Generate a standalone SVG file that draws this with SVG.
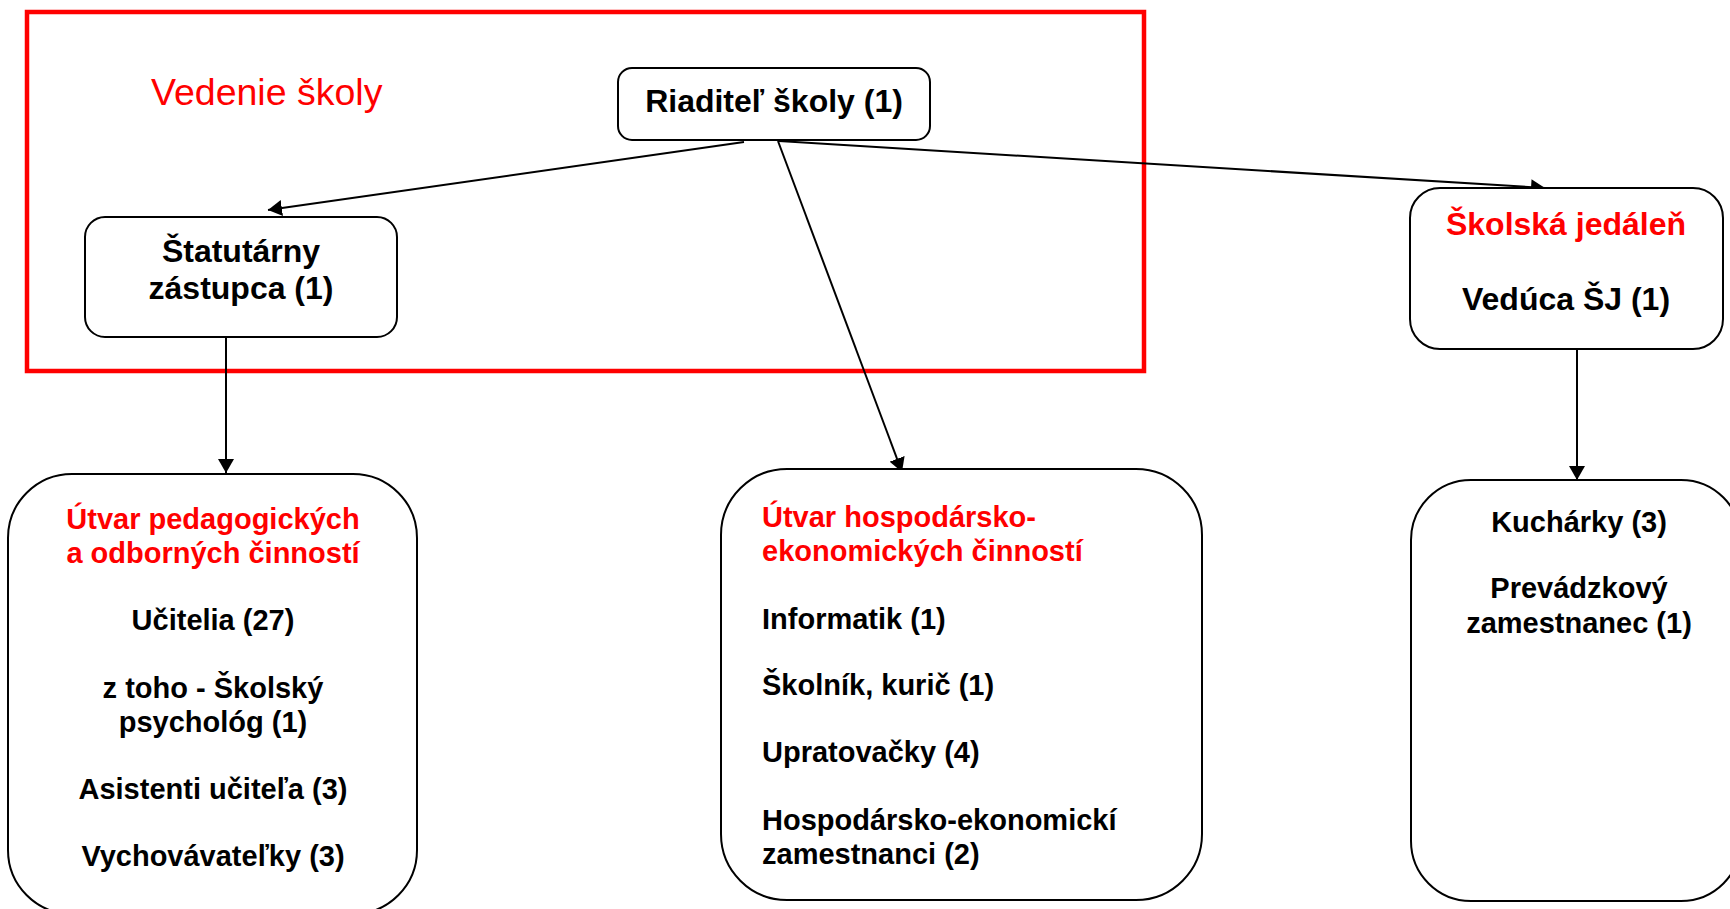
<svg xmlns="http://www.w3.org/2000/svg" width="1730" height="909" viewBox="0 0 1730 909">
<style>
.box{fill:#fff;stroke:#000;stroke-width:2}
.t{font-family:"Liberation Sans",Arial,sans-serif;font-weight:bold;fill:#000}
.red{fill:#ff0000}
.c{text-anchor:middle}
.s32{font-size:32px}
.s29{font-size:29px}
.conn{stroke:#000;stroke-width:2;fill:none;marker-end:url(#ah)}
</style>
<defs>
<marker id="ah" markerUnits="userSpaceOnUse" markerWidth="16" markerHeight="16" refX="14" refY="8" orient="auto">
<path d="M0,0 L14,8 L0,16 z" fill="#000"/>
</marker>
</defs>
<rect width="1730" height="909" fill="#fff"/>
<g id="vedenie">
<rect x="27" y="12" width="1117" height="359" fill="none" stroke="#ff0000" stroke-width="4.5"/>
<text x="151" y="105" font-family="'Liberation Sans',Arial,sans-serif" font-size="37.5" fill="#ff0000">Vedenie školy</text>
</g>
<g id="connectors">
<line class="conn" x1="744" y1="142" x2="268" y2="210"/>
<line class="conn" x1="778" y1="141" x2="902" y2="472"/>
<line class="conn" x1="779" y1="141" x2="1545" y2="188"/>
<line class="conn" x1="226" y1="337" x2="226" y2="473"/>
<line class="conn" x1="1577" y1="349" x2="1577" y2="480"/>
</g>
<g id="riaditel">
<rect class="box" x="618" y="68" width="312" height="72" rx="14"/>
<text class="t s32 c" x="774" y="112">Riaditeľ školy (1)</text>
</g>
<g id="statutarny">
<rect class="box" x="85" y="217" width="312" height="120" rx="20"/>
<text class="t s32 c" x="241" y="262">Štatutárny</text>
<text class="t s32 c" x="241" y="299">zástupca (1)</text>
</g>
<g id="jedalen">
<rect class="box" x="1410" y="188" width="313" height="161" rx="30"/>
<text class="t s32 c red" x="1566" y="235">Školská jedáleň</text>
<text class="t s32 c" x="1566" y="310">Vedúca ŠJ (1)</text>
</g>
<g id="pedagogicky">
<rect class="box" x="8" y="474" width="409" height="440" rx="64"/>
<text class="t s29 c red" x="213" y="529">Útvar pedagogických</text>
<text class="t s29 c red" x="213" y="563">a odborných činností</text>
<text class="t s29 c" x="213" y="630">Učitelia (27)</text>
<text class="t s29 c" x="213" y="698">z toho - Školský</text>
<text class="t s29 c" x="213" y="732">psychológ (1)</text>
<text class="t s29 c" x="213" y="799">Asistenti učiteľa (3)</text>
<text class="t s29 c" x="213" y="866">Vychovávateľky (3)</text>
</g>
<g id="hospodarsky">
<rect class="box" x="721" y="469" width="481" height="431" rx="66"/>
<text class="t s29 red" x="762" y="527">Útvar hospodársko-</text>
<text class="t s29 red" x="762" y="561">ekonomických činností</text>
<text class="t s29" x="762" y="629">Informatik (1)</text>
<text class="t s29" x="762" y="695">Školník, kurič (1)</text>
<text class="t s29" x="762" y="762">Upratovačky (4)</text>
<text class="t s29" x="762" y="830">Hospodársko-ekonomickí</text>
<text class="t s29" x="762" y="864">zamestnanci (2)</text>
</g>
<g id="kucharky">
<rect class="box" x="1411" y="480" width="330" height="421" rx="60"/>
<text class="t s29 c" x="1579" y="532">Kuchárky (3)</text>
<text class="t s29 c" x="1579" y="598">Prevádzkový</text>
<text class="t s29 c" x="1579" y="633">zamestnanec (1)</text>
</g>
</svg>
